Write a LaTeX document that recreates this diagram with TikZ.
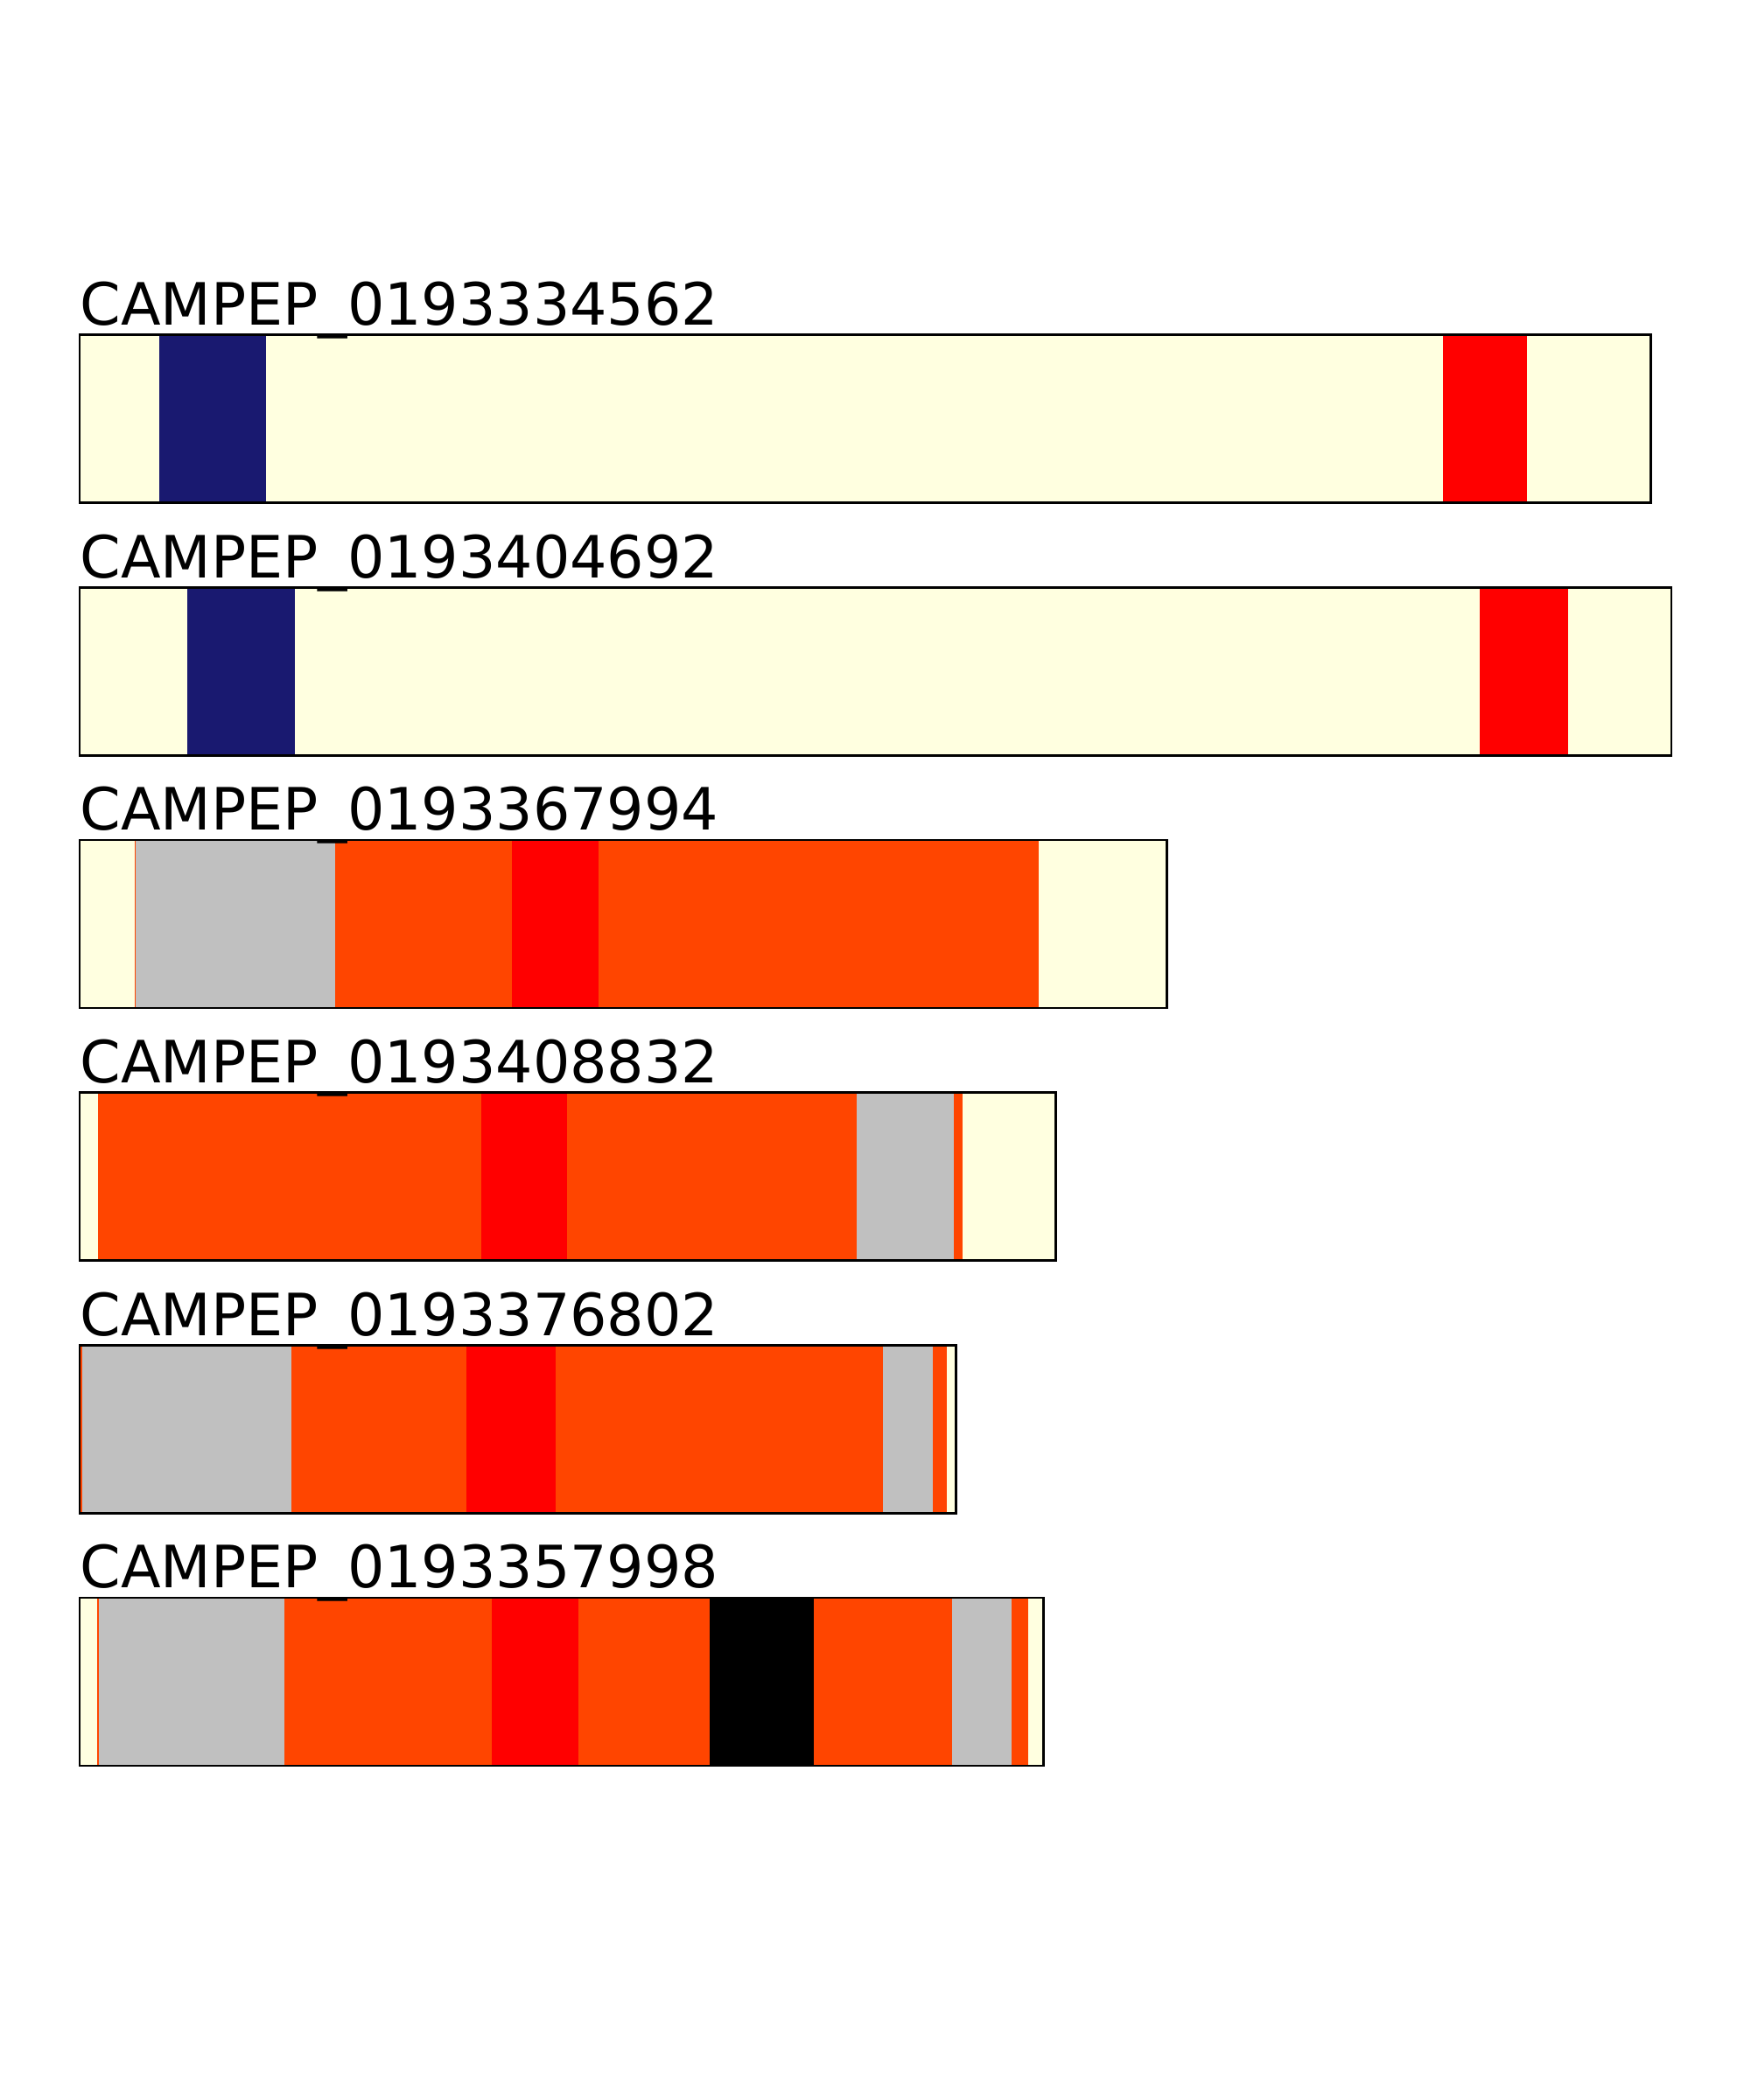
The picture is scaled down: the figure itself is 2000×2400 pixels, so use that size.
\documentclass[tikz,border=0pt]{standalone}
\usepackage{fontspec}
\setmainfont{DejaVu Sans}
\definecolor{Lyel}{RGB}{255,255,224}
\definecolor{Navy}{RGB}{25,25,112}
\definecolor{Ored}{RGB}{255,69,0}
\definecolor{Silv}{RGB}{192,192,192}
\begin{document}
\begin{tikzpicture}[x=0.36pt,y=-0.36pt,line join=miter,
  frame/.style={draw=black,line width=1pt},
  title/.style={anchor=base west,inner sep=0pt,font=\fontsize{24}{28}\selectfont}]
\path[use as bounding box] (0,0) rectangle (2000,2400);
% bar 1
\fill[Lyel] (91,382.7) rectangle (182.3,574.7);
\fill[Navy] (182.3,382.7) rectangle (303.7,574.7);
\fill[Lyel] (303.7,382.7) rectangle (1649.3,574.7);
\fill[red] (1649.3,382.7) rectangle (1745,574.7);
\fill[Lyel] (1745,382.7) rectangle (1886.7,574.7);
\draw[frame] (91,382.7) rectangle (1886.7,574.7);
\node[title] (t1) at (91,371.5) {CAMPEP\_0193334562};
% bar 2
\fill[Lyel] (91,671.4) rectangle (214.2,863.4);
\fill[Navy] (214.2,671.4) rectangle (336.6,863.4);
\fill[Lyel] (336.6,671.4) rectangle (1691,863.4);
\fill[red] (1691,671.4) rectangle (1791.7,863.4);
\fill[Lyel] (1791.7,671.4) rectangle (1910,863.4);
\draw[frame] (91,671.4) rectangle (1910,863.4);
\node[title] (t2) at (91,660.2) {CAMPEP\_0193404692};
% bar 3
\fill[Lyel] (91,960) rectangle (154.3,1152);
\fill[Ored] (154.3,960) rectangle (155.3,1152);
\fill[Silv] (155.3,960) rectangle (382.7,1152);
\fill[Ored] (382.7,960) rectangle (584.5,1152);
\fill[red] (584.5,960) rectangle (684,1152);
\fill[Ored] (684,960) rectangle (1186.7,1152);
\fill[Lyel] (1186.7,960) rectangle (1333.3,1152);
\draw[frame] (91,960) rectangle (1333.3,1152);
\node[title] (t3) at (91,948.8) {CAMPEP\_0193367994};
% bar 4
\fill[Lyel] (91,1248.7) rectangle (111.8,1440.7);
\fill[Ored] (111.8,1248.7) rectangle (550,1440.7);
\fill[red] (550,1248.7) rectangle (648,1440.7);
\fill[Ored] (648,1248.7) rectangle (979.3,1440.7);
\fill[Silv] (979.3,1248.7) rectangle (1090,1440.7);
\fill[Ored] (1090,1248.7) rectangle (1100,1440.7);
\fill[Lyel] (1100,1248.7) rectangle (1206.7,1440.7);
\draw[frame] (91,1248.7) rectangle (1206.7,1440.7);
\node[title] (t4) at (91,1237.5) {CAMPEP\_0193408832};
% bar 5
\fill[Ored] (91,1537.3) rectangle (94,1729.3);
\fill[Silv] (94,1537.3) rectangle (333,1729.3);
\fill[Ored] (333,1537.3) rectangle (533,1729.3);
\fill[red] (533,1537.3) rectangle (634.7,1729.3);
\fill[Ored] (634.7,1537.3) rectangle (1009,1729.3);
\fill[Silv] (1009,1537.3) rectangle (1066,1729.3);
\fill[Ored] (1066,1537.3) rectangle (1081.7,1729.3);
\fill[Lyel] (1081.7,1537.3) rectangle (1092.3,1729.3);
\draw[frame] (91,1537.3) rectangle (1092.3,1729.3);
\node[title] (t5) at (91,1526.1) {CAMPEP\_0193376802};
% bar 6
\fill[Lyel] (91,1826) rectangle (111,2018);
\fill[Ored] (111,1826) rectangle (113,2018);
\fill[Silv] (113,1826) rectangle (325,2018);
\fill[Ored] (325,1826) rectangle (562,2018);
\fill[red] (562,1826) rectangle (661,2018);
\fill[Ored] (661,1826) rectangle (811,2018);
\fill[black] (811,1826) rectangle (930,2018);
\fill[Ored] (930,1826) rectangle (1088,2018);
\fill[Silv] (1088,1826) rectangle (1156,2018);
\fill[Ored] (1156,1826) rectangle (1175,2018);
\fill[Lyel] (1175,1826) rectangle (1192.7,2018);
\draw[frame] (91,1826) rectangle (1192.7,2018);
\node[title] (t6) at (91,1814.8) {CAMPEP\_0193357998};
\end{tikzpicture}
\end{document}
